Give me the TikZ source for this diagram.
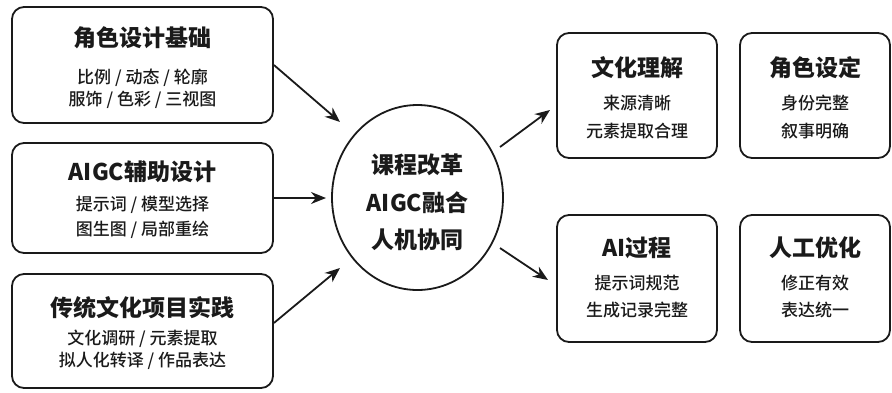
\documentclass[tikz,border=0pt]{standalone}
\usepackage{fontspec}
\setmainfont{Noto Sans CJK SC}
\newfontfamily\ttlfont{Noto Sans CJK SC Black}
\newfontfamily\subfont{Noto Sans CJK SC Medium}
\usetikzlibrary{arrows.meta,shapes.geometric}
\definecolor{ink}{HTML}{1A1A1A}
\begin{document}
\begin{tikzpicture}[x=1pt,y=-1pt,
  box/.style={draw=ink,line width=1.8pt,rounded corners=12pt,inner sep=0pt},
  ttl/.style={font=\ttlfont\fontsize{23}{27}\selectfont,text=ink,inner sep=0pt},
  sub/.style={font=\subfont\fontsize{17}{20}\selectfont,text=ink,inner sep=0pt},
  arr/.style={draw=ink,line width=1.8pt,-{Stealth[length=15pt,width=12pt]}}]
\useasboundingbox (0,0) rectangle (892,392);
\fill[white] (0,0) rectangle (892,392);
% left boxes
\node[box,minimum width=261pt,minimum height=116pt] (b1) at (142.5,65) {};
\node[ttl] (b1t) at (142.5,38) {角色设计基础};
\node[sub] (b1a) at (142.5,78) {比例 / 动态 / 轮廓};
\node[sub] (b1b) at (142.5,100) {服饰 / 色彩 / 三视图};
\node[box,minimum width=261pt,minimum height=110pt] (b2) at (142.5,198) {};
\node[ttl] (b2t) at (142.5,172) {AIGC辅助设计};
\node[sub] (b2a) at (142.5,205) {提示词 / 模型选择};
\node[sub] (b2b) at (142.5,230) {图生图 / 局部重绘};
\node[box,minimum width=261pt,minimum height=114pt] (b3) at (142.5,331) {};
\node[ttl] (b3t) at (142.5,308) {传统文化项目实践};
\node[sub] (b3a) at (142.5,339) {文化调研 / 元素提取};
\node[sub] (b3b) at (142.5,361) {拟人化转译 / 作品表达};
% center
\node[ellipse,draw=ink,line width=1.8pt,minimum width=171pt,minimum height=185pt,inner sep=0pt] (c) at (417.5,197.5) {};
\node[ttl] (ct1) at (417.5,165) {课程改革};
\node[ttl] (ct2) at (417.5,203) {AIGC融合};
\node[ttl] (ct3) at (417.5,240) {人机协同};
% right boxes
\node[box,minimum width=160pt,minimum height=125pt] (r1) at (637,95.5) {};
\node[ttl] (r1t) at (637,68) {文化理解};
\node[sub] (r1a) at (637,103) {来源清晰};
\node[sub] (r1b) at (637,131) {元素提取合理};
\node[box,minimum width=150pt,minimum height=125pt] (r2) at (815,95.5) {};
\node[ttl] (r2t) at (815,68) {角色设定};
\node[sub] (r2a) at (815,103) {身份完整};
\node[sub] (r2b) at (815,131) {叙事明确};
\node[box,minimum width=160pt,minimum height=127pt] (r3) at (637,278.5) {};
\node[ttl] (r3t) at (637,248) {AI过程};
\node[sub] (r3a) at (637,283) {提示词规范};
\node[sub] (r3b) at (637,310) {生成记录完整};
\node[box,minimum width=150pt,minimum height=127pt] (r4) at (815,278.5) {};
\node[ttl] (r4t) at (815,248) {人工优化};
\node[sub] (r4a) at (815,283) {修正有效};
\node[sub] (r4b) at (815,310) {表达统一};
% arrows
\coordinate (t1) at (340,122);
\coordinate (t2) at (326,198);
\coordinate (t3) at (340,268);
\coordinate (s4) at (500,147);
\coordinate (t4) at (550,110);
\coordinate (s5) at (500,248);
\coordinate (t5) at (548,280);
\draw[arr] (b1.east) -- (t1);
\draw[arr] (b2.east) -- (t2);
\draw[arr] ([yshift=8pt]b3.east) -- (t3);
\draw[arr] (s4) -- (t4);
\draw[arr] (s5) -- (t5);
\end{tikzpicture}
\end{document}
